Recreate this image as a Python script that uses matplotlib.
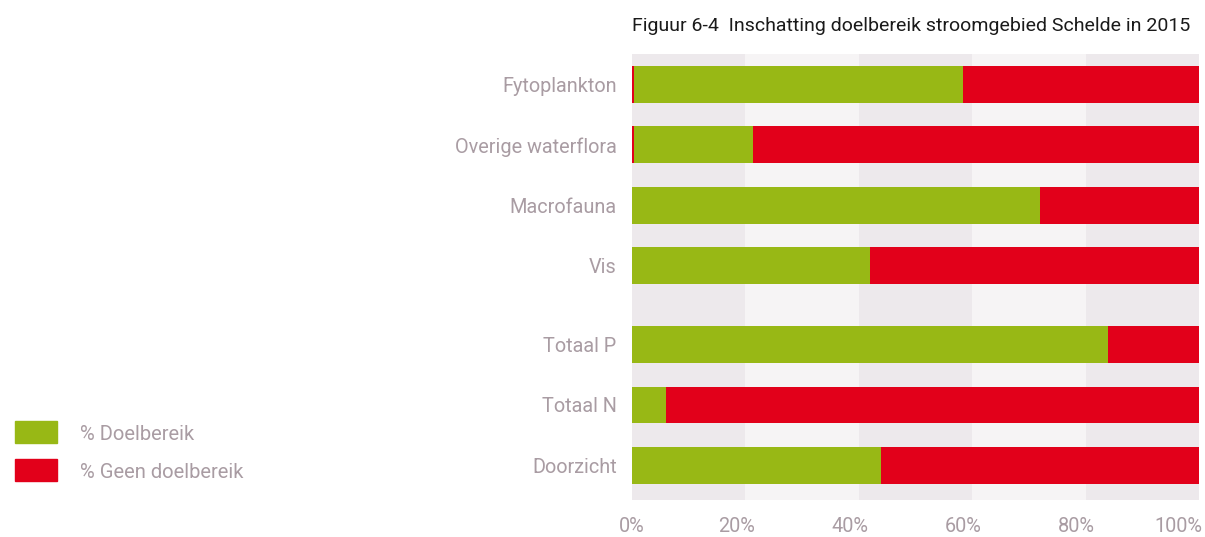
import matplotlib
matplotlib.use("Agg")
import matplotlib.pyplot as plt
from matplotlib.patches import Rectangle
from matplotlib.transforms import ScaledTranslation

# ---------- data ----------
categories = [
    "Fytoplankton",
    "Overige waterflora",
    "Macrofauna",
    "Vis",
    "Totaal P",
    "Totaal N",
    "Doorzicht",
]
# small leading part shown in red on the first two bars
pct_sliver = [0.3, 0.3, 0, 0, 0, 0, 0]
pct_doel = [58.0, 21.0, 72.0, 42.0, 84.0, 6.0, 44.0]
pct_geen = [100 - s - d for s, d in zip(pct_sliver, pct_doel)]
# biology group, then a gap, then physico-chemistry group
y_pos = [0, 1, 2, 3, 4.3, 5.3, 6.3]
x_ticks = [0, 20, 40, 60, 80, 100]
x_labels = ["0%", "20%", "40%", "60%", "80%", "100%"]

title = "Figuur 6-4  Inschatting doelbereik stroomgebied Schelde in 2015"
legend_labels = ["% Doelbereik", "% Geen doelbereik"]

GREEN = "#98b815"
RED = "#e2001a"
BAND_DARK = "#ede9ec"
BAND_LIGHT = "#f6f4f5"
TEXT = "#a99ca3"

plt.rcParams["font.family"] = ["Roboto", "DejaVu Sans"]

fig = plt.figure(figsize=(12.05, 5.37), dpi=100)
ax = fig.add_axes([632 / 1205, 1 - 500 / 537, 567 / 1205, 446 / 537])

# alternating background bands every 20%
for i in range(len(x_ticks) - 1):
    ax.axvspan(x_ticks[i], x_ticks[i + 1],
               color=BAND_DARK if i % 2 == 0 else BAND_LIGHT,
               lw=0, zorder=0)

h = 0.61
left = [0] * len(categories)
ax.barh(y_pos, pct_sliver, left=left, height=h, color=RED, lw=0, zorder=2)
left = [a + b for a, b in zip(left, pct_sliver)]
ax.barh(y_pos, pct_doel, left=left, height=h, color=GREEN, lw=0, zorder=2)
left = [a + b for a, b in zip(left, pct_doel)]
ax.barh(y_pos, pct_geen, left=left, height=h, color=RED, lw=0, zorder=2)

ax.set_xlim(0, 100)
ax.set_ylim(6.87, -0.5)
ax.set_yticks(y_pos)
ax.set_yticklabels(categories, fontsize=14.3, color=TEXT)
ax.set_xticks(x_ticks)
ax.set_xticklabels(x_labels, fontsize=14.3, color=TEXT)
ax.tick_params(axis="y", length=0, pad=11)
ax.tick_params(axis="x", length=0, pad=12)
for s in ax.spines.values():
    s.set_visible(False)

# percentage labels sit a little left of the band edges,
# the last one is right-aligned so it stays inside the figure
labels = ax.get_xticklabels()
for lab in labels[1:-1]:
    lab.set_transform(lab.get_transform()
                      + ScaledTranslation(-9 / 100, 0, fig.dpi_scale_trans))
labels[-1].set_horizontalalignment("right")
labels[-1].set_transform(labels[-1].get_transform()
                         + ScaledTranslation(3 / 100, 0, fig.dpi_scale_trans))

fig.text(632 / 1205, 1 - 26 / 537, title, fontsize=14.0, color="#1a1a1a",
         ha="left", va="center")

# legend drawn as plain patches and text in figure coords
for i, (lab, col) in enumerate(zip(legend_labels, [GREEN, RED])):
    yc = 432 + i * 38
    fig.patches.append(Rectangle((15 / 1205, 1 - (yc + 11) / 537),
                                 42 / 1205, 22 / 537, color=col,
                                 transform=fig.transFigure, figure=fig))
    fig.text(80 / 1205, 1 - (yc + 3) / 537, lab, fontsize=14.5,
             color=TEXT, ha="left", va="center")

fig.savefig("out.png", dpi=100)
